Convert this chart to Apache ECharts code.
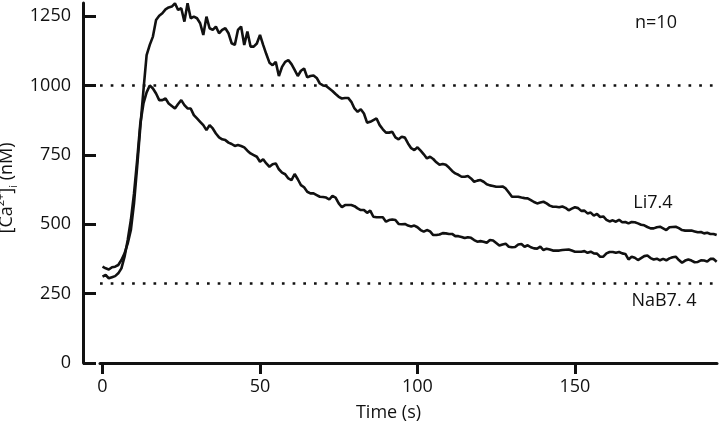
<!DOCTYPE html>
<html>
<head>
<meta charset="utf-8">
<script src="https://cdn.jsdelivr.net/npm/echarts@6/dist/echarts.min.js"></script>
<style>
html,body{margin:0;padding:0;background:#fff;}
#chart{width:720px;height:428px;}
</style>
</head>
<body>
<div id="chart"></div>
<script>
// sampling interval of the traces (s)
const sampleInterval = 1;
// Li7.4 trace, [Ca2+]i in nM, one value per second from t = 0
const li74 = [
347,341,337,345,347,353,371,395,431,479,
575,707,851,983,1109,1146,1176,1236,1251,1260,
1274,1281,1284,1296,1272,1278,1230,1296,1242,1248,
1242,1224,1182,1248,1206,1200,1212,1188,1200,1206,
1188,1152,1146,1200,1212,1146,1194,1140,1140,1151,
1182,1146,1113,1082,1073,1085,1034,1067,1085,1091,
1077,1056,1034,1053,1061,1029,1034,1036,1027,1007,
1000,998,989,980,969,959,953,955,955,941,
917,905,914,899,866,869,875,881,857,842,
830,830,833,813,806,815,812,791,774,767,
777,765,752,737,743,735,723,714,717,714,
704,692,683,678,671,671,674,665,653,657,
659,653,644,640,638,635,635,636,629,614,
599,599,599,596,594,593,587,580,575,578,
581,575,567,563,563,561,564,559,550,556,
561,558,548,549,539,542,531,537,526,528,
516,510,514,509,516,507,508,503,508,507,
503,498,496,490,485,485,489,491,485,479,
489,490,491,486,479,477,477,477,474,471,
472,467,469,465,465,461
];
// NaB7.4 trace, [Ca2+]i in nM, one value per second from t = 0
const nab74 = [
311,317,305,309,313,323,341,383,443,515,
611,731,863,935,975,1000,989,971,947,947,
953,935,926,917,933,947,929,917,917,893,
881,869,857,839,857,845,827,813,806,803,
794,789,782,785,782,777,765,755,749,743,
725,734,719,707,716,719,698,686,680,665,
659,681,662,641,633,617,611,611,605,599,
598,596,589,602,596,575,561,569,569,569,
565,557,551,551,541,549,527,525,525,525,
509,515,517,515,501,500,501,495,492,495,
489,479,473,479,474,461,461,463,468,467,
465,465,457,457,454,450,453,451,443,437,
439,437,433,443,441,432,423,427,430,419,
417,418,427,429,419,424,417,413,412,419,
407,412,409,405,405,405,407,408,409,405,
401,401,401,403,397,401,395,394,383,383,
395,400,400,397,400,395,393,373,383,379,
371,378,385,387,378,373,376,370,375,370,
377,381,383,371,361,369,373,369,363,364,
370,369,366,375,375,365
];
// dotted reference levels (nM)
const refLevels = [1000, 287];
// tick values
const xTicks = [0, 50, 100, 150];
const yTicks = [0, 250, 500, 750, 1000, 1250];
const seriesNames = ['Li7.4', 'NaB7. 4'];
const noteText = 'n=10';

const FONT = '"Open Sans", "Noto Sans", sans-serif';
const INK = '#111';

function toPairs(arr){ return arr.map((v,i)=>[i*sampleInterval, v]); }

const chart = echarts.init(document.getElementById('chart'), null, {renderer:'canvas'});
chart.setOption({
  animation:false,
  backgroundColor:'#fff',
  grid:{left:100, right:3, top:3, bottom:65, outerBoundsMode:'none'},
  xAxis:{
    type:'value', min:-0.8, max:195.1,
    axisLine:{show:true, onZero:false, lineStyle:{color:INK, width:3}},
    axisTick:{show:true, length:11, lineStyle:{color:INK, width:3}, customValues:xTicks},
    axisLabel:{customValues:xTicks, margin:15, fontSize:18, fontFamily:FONT, color:INK, formatter:v=>String(v)},
    splitLine:{show:false},
    name:'Time (s)', nameLocation:'middle', nameGap:41,
    nameTextStyle:{fontSize:18, fontFamily:FONT, color:INK, padding:[0,40,0,0]}
  },
  yAxis:{
    type:'value', min:0, max:1297, offset:17,
    axisLine:{show:true, onZero:false, lineStyle:{color:INK, width:3}},
    axisTick:{show:true, inside:true, length:13, lineStyle:{color:INK, width:3}, customValues:yTicks},
    axisLabel:{customValues:yTicks, margin:12, fontSize:18, fontFamily:FONT, color:INK, formatter:v=>String(v)},
    splitLine:{show:false},
    name:'{a|[Ca}{sup|2+}{a|]}{sub|i}{a| (nM)}',
    nameLocation:'middle', nameRotate:90, nameGap:36,
    nameTextStyle:{
      color:INK, fontFamily:FONT, fontSize:18, padding:[0,10,0,0],
      rich:{
        a:{fontSize:18, fontFamily:FONT, color:INK, lineHeight:24, verticalAlign:'middle'},
        sup:{fontSize:11, fontFamily:FONT, color:INK, lineHeight:12, verticalAlign:'top'},
        sub:{fontSize:11, fontFamily:FONT, color:INK, lineHeight:12, verticalAlign:'bottom'}
      }
    }
  },
  series:[
    {
      name:seriesNames[0], type:'line', data:toPairs(li74), showSymbol:false, symbol:'none',
      lineStyle:{color:INK, width:2.6}, z:3,
      markLine:{
        silent:true, symbol:'none', label:{show:false},
        lineStyle:{color:INK, width:2.7, type:[2.7,8], cap:'butt'},
        data:refLevels.map(v=>({yAxis:v}))
      }
    },
    {
      name:seriesNames[1], type:'line', data:toPairs(nab74), showSymbol:false, symbol:'none',
      lineStyle:{color:INK, width:2.6}, z:3
    }
  ],
  graphic:[
    {type:'text', x:656, y:23, style:{text:noteText, fontSize:18, fontFamily:FONT, fill:INK, align:'center', verticalAlign:'middle'}},
    {type:'text', x:653, y:203, style:{text:seriesNames[0], fontSize:18, fontFamily:FONT, fill:INK, align:'center', verticalAlign:'middle'}},
    {type:'text', x:664, y:301, style:{text:seriesNames[1], fontSize:18, fontFamily:FONT, fill:INK, align:'center', verticalAlign:'middle'}}
  ]
});
</script>
</body>
</html>
